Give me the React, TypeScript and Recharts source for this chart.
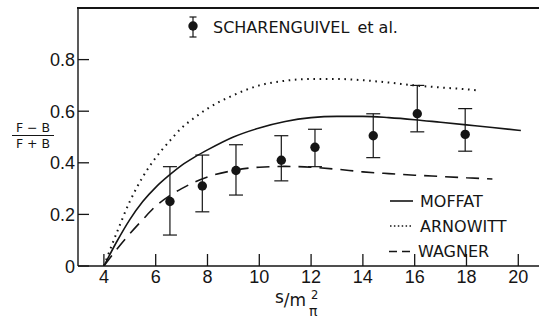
import React from "react";
import {
  ComposedChart,
  Line,
  Scatter,
  ErrorBar,
  XAxis,
  YAxis,
} from "recharts";

// measured points (Scharenguivel et al.)
const obsX = [6.55, 7.8, 9.1, 10.85, 12.15, 14.4, 16.1, 17.95];
const obsY = [0.25, 0.31, 0.37, 0.41, 0.46, 0.505, 0.59, 0.51];
const obsLow = [0.12, 0.21, 0.275, 0.33, 0.385, 0.42, 0.52, 0.445];
const obsHigh = [0.385, 0.43, 0.47, 0.505, 0.53, 0.59, 0.7, 0.61];

// theory curves
const moffatX = [4, 4.5, 5, 5.5, 6, 6.5, 7, 7.5, 8, 9, 10, 11, 12, 13, 14, 15, 16, 17, 18, 19, 20.1];
const moffatY = [0, 0.095, 0.18, 0.25, 0.305, 0.35, 0.39, 0.422, 0.45, 0.5, 0.535, 0.56, 0.575, 0.58, 0.58, 0.575, 0.567, 0.557, 0.547, 0.537, 0.525];

const arnowittX = [4, 4.5, 5, 5.5, 6, 6.5, 7, 7.5, 8, 9, 10, 11, 12, 13, 14, 15, 16, 17, 18, 18.5];
const arnowittY = [0, 0.13, 0.25, 0.345, 0.42, 0.48, 0.535, 0.575, 0.61, 0.662, 0.7, 0.718, 0.725, 0.725, 0.72, 0.711, 0.7, 0.692, 0.685, 0.68];

const wagnerX = [4, 4.5, 5, 5.5, 6, 6.5, 7, 7.5, 8, 9, 10, 11, 12, 13, 14, 15, 16, 17, 18, 19];
const wagnerY = [0, 0.065, 0.125, 0.18, 0.232, 0.27, 0.3, 0.325, 0.345, 0.37, 0.383, 0.386, 0.383, 0.375, 0.365, 0.358, 0.352, 0.347, 0.342, 0.337];

const xTicks = [4, 6, 8, 10, 12, 14, 16, 18, 20];
const yTicks = [0, 0.2, 0.4, 0.6, 0.8];
const yTickLabels = ["0", "0.2", "0.4", "0.6", "0.8"];

const INK = "#151515";
const FONT = "'DejaVu Sans', sans-serif";
const TICK_FONT = "'Liberation Sans', Arial, sans-serif";

const toLine = (xs: number[], ys: number[]) => xs.map((x, i) => ({ x, y: ys[i] }));

const points = obsX.map((x, i) => ({
  x,
  y: obsY[i],
  err: [obsY[i] - obsLow[i], obsHigh[i] - obsY[i]],
}));

function XTick(props: any) {
  const { x, y, payload } = props;
  return (
    <g>
      <line x1={x} x2={x} y1={y} y2={y - 12} stroke={INK} strokeWidth={1.3} />
      <text x={x} y={y + 17} textAnchor="middle" fontSize={18} fontFamily={TICK_FONT} fill={INK}>
        {payload.value}
      </text>
    </g>
  );
}

function YTick(props: any) {
  const { x, y, payload } = props;
  const idx = yTicks.indexOf(payload.value);
  return (
    <g>
      <line x1={x} x2={x + 11} y1={y} y2={y} stroke={INK} strokeWidth={1.3} />
      <text x={x - 3} y={y + 6.5} textAnchor="end" fontSize={18} fontFamily={TICK_FONT} fill={INK}>
        {idx >= 0 ? yTickLabels[idx] : payload.value}
      </text>
    </g>
  );
}

function Dot(props: any) {
  const { cx, cy } = props;
  return <circle cx={cx} cy={cy} r={4.7} fill={INK} />;
}

export default function App() {
  return (
    <div style={{ position: "absolute", left: 0, top: 0, width: 539, height: 320, background: "#fff", overflow: "hidden" }}>
      <ComposedChart width={539} height={320} margin={{ top: 8, right: 0, left: 0, bottom: 0 }}>
        <XAxis
          type="number"
          dataKey="x"
          domain={[3, 20.8]}
          ticks={xTicks}
          height={54}
          tickSize={0}
          tickMargin={0}
          tickLine={false}
          tick={<XTick />}
          axisLine={{ stroke: INK, strokeWidth: 1.4 }}
          allowDataOverflow
        />
        <YAxis
          type="number"
          dataKey="y"
          domain={[0, 1]}
          ticks={yTicks}
          width={78}
          tickSize={0}
          tickMargin={0}
          tickLine={false}
          tick={<YTick />}
          axisLine={{ stroke: INK, strokeWidth: 1.4 }}
          allowDataOverflow
        />
        <Line
          data={toLine(arnowittX, arnowittY)}
          dataKey="y"
          type="monotone"
          dot={false}
          stroke={INK}
          strokeWidth={2}
          strokeDasharray="1.6 4.6"
          isAnimationActive={false}
        />
        <Line
          data={toLine(moffatX, moffatY)}
          dataKey="y"
          type="monotone"
          dot={false}
          stroke={INK}
          strokeWidth={1.6}
          isAnimationActive={false}
        />
        <Line
          data={toLine(wagnerX, wagnerY)}
          dataKey="y"
          type="monotone"
          dot={false}
          stroke={INK}
          strokeWidth={1.6}
          strokeDasharray="13 8"
          isAnimationActive={false}
        />
        <Scatter data={points} dataKey="y" shape={<Dot />} isAnimationActive={false}>
          <ErrorBar dataKey="err" direction="y" width={7} stroke={INK} strokeWidth={1.2} />
        </Scatter>
      </ComposedChart>
      <svg
        width={539}
        height={320}
        style={{ position: "absolute", left: 0, top: 0, pointerEvents: "none" }}
      >
        {/* top frame line */}
        <rect x={77} y={7} width={462} height={2} fill={INK} />

        {/* data legend */}
        <line x1={193} x2={193} y1={17} y2={37} stroke={INK} strokeWidth={1.2} />
        <line x1={189.5} x2={196.5} y1={17} y2={17} stroke={INK} strokeWidth={1.2} />
        <line x1={189.5} x2={196.5} y1={37} y2={37} stroke={INK} strokeWidth={1.2} />
        <circle cx={193} cy={26} r={4.7} fill={INK} />
        <text x={213} y={33} fontSize={16} fontFamily={FONT} fill={INK}>
          SCHARENGUIVEL <tspan dx={3}>et al.</tspan>
        </text>

        {/* curve legend */}
        <line x1={390} x2={413} y1={201} y2={201} stroke={INK} strokeWidth={1.6} />
        <text x={420} y={207} fontSize={16} fontFamily={FONT} fill={INK}>MOFFAT</text>
        <line x1={390} x2={413} y1={226} y2={226} stroke={INK} strokeWidth={1.6} strokeDasharray="1.5 2.4" />
        <text x={420} y={232} fontSize={16} fontFamily={FONT} fill={INK}>ARNOWITT</text>
        <line x1={389} x2={413} y1={251.5} y2={251.5} stroke={INK} strokeWidth={1.6} strokeDasharray="8 5" />
        <text x={418} y={257} fontSize={16} fontFamily={FONT} fill={INK}>WAGNER</text>

        {/* y label fraction */}
        <text x={33} y={132} textAnchor="middle" fontSize={12.5} fontFamily={FONT} fill={INK}>F − B</text>
        <line x1={12} x2={54} y1={135.5} y2={135.5} stroke={INK} strokeWidth={1.1} />
        <text x={33} y={148} textAnchor="middle" fontSize={12.5} fontFamily={FONT} fill={INK}>F + B</text>

        {/* x label */}
        <text x={275} y={306} fontSize={17} fontFamily={FONT} fill={INK}>
          <tspan dy={-3}>s</tspan>
          <tspan dy={3}>/m</tspan>
        </text>
        <text x={311} y={299} fontSize={11.5} fontFamily={FONT} fill={INK}>2</text>
        <text x={309} y={316} fontSize={14} fontFamily={FONT} fill={INK}>π</text>
      </svg>
    </div>
  );
}
